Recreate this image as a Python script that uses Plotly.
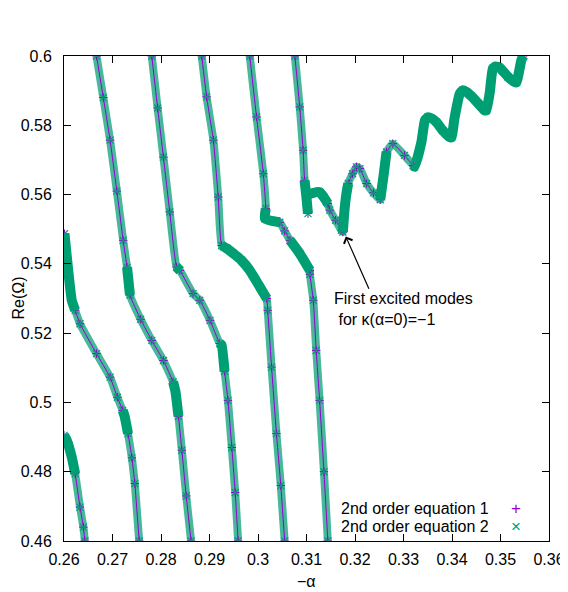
import plotly.graph_objects as go

# branches of Re(Omega) vs -alpha
A_X = [0.2600, 0.2606, 0.2616, 0.2623, 0.2633, 0.2640, 0.2643]
A_Y = [0.4905, 0.4890, 0.4842, 0.4794, 0.4698, 0.4640, 0.4600]

B_X = [0.2601, 0.2608, 0.2616, 0.2623, 0.2633, 0.2667, 0.2695, 0.2710, 0.2721,
       0.2725, 0.2732, 0.2740, 0.2746, 0.2755]
B_Y = [0.5487, 0.5390, 0.5295, 0.5266, 0.5227, 0.5141, 0.5073, 0.5015, 0.4977,
       0.4960, 0.4910, 0.4840, 0.4766, 0.4600]

C_X = [0.2667, 0.2681, 0.2695, 0.2709, 0.2722, 0.2730, 0.2736, 0.2758, 0.2781,
       0.2805, 0.2825, 0.2830, 0.2836, 0.2843, 0.2852, 0.2862]
C_Y = [0.6000, 0.5880, 0.5757, 0.5610, 0.5468, 0.5390, 0.5310, 0.5240, 0.5179,
       0.5121, 0.5059, 0.5030, 0.4960, 0.4862, 0.4730, 0.4600]

D_X = [0.2781, 0.2793, 0.2805, 0.2818, 0.2832, 0.2839, 0.2866, 0.2880, 0.2901,
       0.2921, 0.2925, 0.2931, 0.2938, 0.2946, 0.2953, 0.2959]
D_Y = [0.6000, 0.5850, 0.5708, 0.5550, 0.5391, 0.5381, 0.5314, 0.5295, 0.5237,
       0.5170, 0.5165, 0.5090, 0.5006, 0.4870, 0.4740, 0.4600]

E_X = [0.2884, 0.2894, 0.2908, 0.2918, 0.2925, 0.2935, 0.2949, 0.2966, 0.2983,
       0.3004, 0.3018, 0.3020, 0.3028, 0.3038, 0.3047, 0.3055]
E_Y = [0.6000, 0.5882, 0.5757, 0.5593, 0.5453, 0.5445, 0.5430, 0.5410, 0.5381,
       0.5333, 0.5300, 0.5266, 0.5102, 0.4910, 0.4760, 0.4600]

F_X = [0.2983, 0.2997, 0.3011, 0.3016, 0.3014, 0.3025, 0.3045, 0.3055, 0.3066,
       0.3086, 0.3107, 0.3107, 0.3114, 0.3120, 0.3127, 0.3136, 0.3144]
F_Y = [0.6000, 0.5824, 0.5660, 0.5560, 0.5531, 0.5525, 0.5520, 0.5495, 0.5468,
       0.5430, 0.5381, 0.5370, 0.5295, 0.5150, 0.5006, 0.4800, 0.4600]

G1_X = [0.3076, 0.3086, 0.3093, 0.3096, 0.3100, 0.3103]
G1_Y = [0.6000, 0.5853, 0.5728, 0.5641, 0.5590, 0.5545]

G2_X = [0.3103, 0.3110, 0.3120, 0.3127, 0.3136, 0.3144, 0.3148, 0.3160, 0.3172,
        0.3175, 0.3178, 0.3182, 0.3186, 0.3195, 0.3203, 0.3210, 0.3224, 0.3238,
        0.3252, 0.3259, 0.3265, 0.3278, 0.3302, 0.3320, 0.3323, 0.3337, 0.3344,
        0.3350, 0.3358, 0.3368, 0.3381, 0.3395, 0.3399, 0.3405, 0.3416, 0.3422,
        0.3430, 0.3440, 0.3454, 0.3467, 0.3471, 0.3478, 0.3484, 0.3490, 0.3498,
        0.3516, 0.3529, 0.3533, 0.3543, 0.3547]
G2_Y = [0.5600, 0.5603, 0.5607, 0.5607, 0.5592, 0.5574, 0.5555, 0.5526, 0.5497,
        0.5492, 0.5550, 0.5600, 0.5632, 0.5660, 0.5680, 0.5675, 0.5632, 0.5605,
        0.5585, 0.5656, 0.5723, 0.5747, 0.5713, 0.5684, 0.5680, 0.5752, 0.5814,
        0.5823, 0.5820, 0.5809, 0.5785, 0.5766, 0.5765, 0.5819, 0.5891, 0.5901,
        0.5896, 0.5884, 0.5863, 0.5843, 0.5843, 0.5896, 0.5964, 0.5970, 0.5967,
        0.5939, 0.5925, 0.5924, 0.5988, 0.6000]

BRANCHES = [(A_X, A_Y), (B_X, B_Y), (C_X, C_Y), (D_X, D_Y), (E_X, E_Y),
            (F_X, F_Y), (G1_X, G1_Y), (G2_X, G2_Y)]

# index ranges (branch, start, stop) where the points are packed densely
DENSE = [(0, 0, 4), (1, 0, 4), (1, 8, 11), (2, 5, 7), (2, 10, 13), (3, 4, 6),
         (3, 9, 12), (4, 4, 11), (5, 3, 7), (5, 8, 11), (6, 3, 6), (7, 0, 6),
         (7, 9, 13), (7, 18, 21), (7, 23, 50)]

SERIES = ["2nd order equation 1", "2nd order equation 2"]
PURPLE = "#9400d3"
GREEN = "#009e73"
SMOOTH = 0.4

fig = go.Figure()

for bx, by in BRANCHES:
    fig.add_trace(go.Scatter(x=bx, y=by, mode="lines", showlegend=False, hoverinfo="skip",
                             line=dict(color="rgba(0,158,115,0.72)", width=8, shape="spline", smoothing=SMOOTH)))
for bx, by in BRANCHES:
    fig.add_trace(go.Scatter(x=bx, y=by, mode="lines+markers", name=SERIES[0], showlegend=False,
                             line=dict(color=PURPLE, width=1, shape="spline", smoothing=SMOOTH),
                             marker=dict(symbol="cross-thin", size=6, line=dict(color=PURPLE, width=1))))
for bx, by in BRANCHES:
    fig.add_trace(go.Scatter(x=bx, y=by, mode="markers", name=SERIES[1], showlegend=False,
                             marker=dict(symbol="x-thin", size=7, line=dict(color=GREEN, width=1.2))))
for b, i0, i1 in DENSE:
    bx, by = BRANCHES[b]
    fig.add_trace(go.Scatter(x=bx[i0:i1], y=by[i0:i1], mode="lines", showlegend=False, hoverinfo="skip",
                             line=dict(color=GREEN, width=10, shape="spline", smoothing=SMOOTH)))

# arrow + label
fig.add_annotation(x=0.3181, y=0.5479, ax=0.3230, ay=0.5324, axref="x", ayref="y",
                   text="", showarrow=True, arrowhead=4, arrowsize=1.5, arrowwidth=1.2,
                   arrowcolor="black")
fig.add_annotation(x=0.3152, y=0.5269, xanchor="left", yanchor="middle", align="left",
                   text="First excited modes<br>\u00a0for κ(α=0)=−1", showarrow=False,
                   font=dict(size=16, color="black"))

# key, gnuplot style: text on the left, sample on the right
for k, (label, sym, col) in enumerate([(SERIES[0], "+", PURPLE), (SERIES[1], "×", GREEN)]):
    yy = 0.066 - k * 0.037
    fig.add_annotation(xref="paper", yref="paper", x=0.881, y=yy, xanchor="right", yanchor="middle",
                       text=label, showarrow=False, font=dict(size=16, color="black"))
    fig.add_annotation(xref="paper", yref="paper", x=0.932, y=yy, xanchor="center", yanchor="middle",
                       text=sym, showarrow=False, font=dict(size=17, color=col))

# axis titles placed by hand (standoff is ignored without automargin)
fig.add_annotation(xref="paper", yref="paper", x=0, y=0.5, xshift=-46, textangle=-90,
                   xanchor="center", yanchor="middle",
                   text="Re(Ω)", showarrow=False, font=dict(size=16, color="black"))
fig.add_annotation(xref="paper", yref="paper", x=0.5, y=0, yshift=-40,
                   xanchor="center", yanchor="middle",
                   text="−α", showarrow=False, font=dict(size=16, color="black"))

axis_common = dict(showline=True, linecolor="black", linewidth=1, mirror="ticks", ticks="inside",
                   ticklen=7, tickcolor="black", showgrid=False, zeroline=False, automargin=False,
                   tickfont=dict(size=16, color="black"))
fig.update_xaxes(range=[0.26, 0.36], dtick=0.01, tick0=0.26, ticklabelstandoff=4, **axis_common)
fig.update_yaxes(range=[0.46, 0.6], dtick=0.02, tick0=0.46, ticklabelstandoff=8, **axis_common)
# the page body adds an 8 px margin, so the figure is 8 px smaller than the window
fig.update_layout(width=560, height=584, margin=dict(l=56, r=19, t=48, b=51),
                  plot_bgcolor="white", paper_bgcolor="white",
                  font=dict(family="Liberation Sans, Arial, sans-serif", size=16, color="black"),
                  showlegend=False)

fig.write_html("out.html")
